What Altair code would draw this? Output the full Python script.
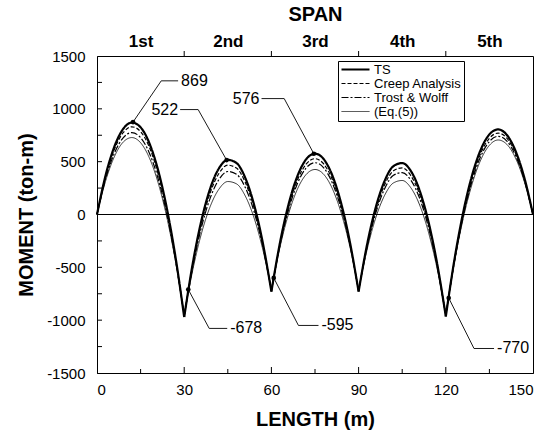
import json
import altair as alt
import pandas as pd

FONT = "Liberation Sans"

# ---------------- data ----------------
LENGTH = [0, 3, 6, 9, 12, 15, 18, 21, 24, 27, 30, 33, 36, 39, 42, 45, 48, 51, 54, 57,
          60, 63, 66, 69, 72, 75, 78, 81, 84, 87, 90, 93, 96, 99, 102, 105, 108, 111,
          114, 117, 120, 123, 126, 129, 132, 135, 138, 141, 144, 147, 150]

TS = [0, 375, 644, 810, 870, 825, 676, 422, 62, -401, -970,
      -454, -47, 251, 439, 517, 487, 347, 97, -262, -730,
      -260, 106, 367, 524, 576, 524, 367, 106, -260, -730,
      -273, 77, 321, 458, 487, 411, 227, -64, -461, -965,
      -422, 22, 367, 612, 758, 805, 753, 601, 350, 0]

CREEP = [0, 360, 618, 774, 830, 784, 637, 388, 39, -413, -965,
         -469, -77, 209, 391, 467, 439, 305, 67, -277, -725,
         -274, 77, 328, 478, 528, 478, 328, 77, -274, -725,
         -286, 50, 284, 414, 442, 367, 190, -91, -474, -960,
         -431, 1, 338, 578, 722, 770, 722, 577, 337, 0]

TROST = [0, 339, 581, 726, 775, 727, 583, 342, 5, -429, -960,
         -487, -114, 160, 333, 407, 381, 256, 30, -295, -720,
         -284, 54, 296, 442, 490, 442, 296, 54, -284, -720,
         -299, 23, 247, 371, 397, 324, 153, -118, -487, -955,
         -439, -16, 313, 549, 691, 740, 695, 557, 325, 0]

EQ5 = [0, 321, 549, 685, 728, 679, 537, 303, -24, -443, -955,
       -518, -173, 80, 242, 312, 290, 176, -29, -326, -715,
       -304, 15, 243, 380, 426, 380, 243, 15, -304, -715,
       -323, -23, 184, 299, 322, 252, 90, -164, -511, -950,
       -448, -37, 284, 515, 655, 705, 664, 533, 312, 0]

SERIES = ["TS", "Creep Analysis", "Trost & Wolff", "(Eq.(5))"]

X_LABELS = [0, 30, 60, 90, 120, 150]
X_MINOR = [15, 45, 75, 105, 135]
Y_LABELS = [-1500, -1000, -500, 0, 500, 1000, 1500]
Y_TICKS = [-1250, -1000, -750, -500, -250, 0, 250, 500, 750, 1000, 1250]
SPAN_CENTERS = [15, 45, 75, 105, 135]
SPAN_LABELS = ["1st", "2nd", "3rd", "4th", "5th"]
SPAN_BOUNDS = [30, 60, 90, 120]

ANN_TEXT = ["869", "522", "576", "-678", "-595", "-770"]
ANN_TIP_X = [12.4, 44.6, 74.6, 31.4, 60.8, 121.0]
ANN_TIP_Y = [875, 515, 575, -710, -600, -790]
ANN_BEND_X = [22.1, 34.8, 64.4, 38.6, 69.3, 129.7]
ANN_BEND_Y = [1265, 993, 1097, -1078, -1050, -1268]
ANN_END_X = [27.9, 28.6, 56.6, 44.8, 76.2, 136.6]

# ---------------- tables ----------------
rows = []
for name, vals in zip(SERIES, [TS, CREEP, TROST, EQ5]):
    for s in range(5):
        for i in range(11):
            k = 10 * s + i
            rows.append({"series": name, "key": f"{name}-{s}", "x": LENGTH[k],
                         "m": vals[k], "order": k})
curve_df = pd.DataFrame(rows)

lead_rows = []
for j, t in enumerate(ANN_TEXT):
    pts = [(ANN_TIP_X[j], ANN_TIP_Y[j]), (ANN_BEND_X[j], ANN_BEND_Y[j]), (ANN_END_X[j], ANN_BEND_Y[j])]
    for k, (px, py) in enumerate(pts):
        lead_rows.append({"id": t, "k": k, "x": px, "m": py})
lead_df = pd.DataFrame(lead_rows)

ann_df = pd.DataFrame({"label": ANN_TEXT, "tx": ANN_TIP_X, "ty": ANN_TIP_Y,
                       "bx": ANN_BEND_X, "by": ANN_BEND_Y, "ex": ANN_END_X})

W, H = 436, 317
XS = alt.Scale(domain=[0, 150], nice=False, zero=False)
YS = alt.Scale(domain=[-1500, 1500], nice=False, zero=False)

leg = dict(title=None, orient="none", legendX=241, legendY=5, fillColor="white",
           strokeColor="black", padding=2, symbolType="M-1,0H4.6", symbolSize=100,
           symbolStrokeColor="black", labelFontSize=13, labelFont=FONT, labelColor="black",
           rowPadding=0, labelOffset=21)

shadow = alt.Chart(pd.DataFrame({"a": [0]})).mark_rect(color="black", opacity=1).encode(
    x=alt.value(247), x2=alt.value(367), y=alt.value(9), y2=alt.value(66))

curves = alt.Chart(curve_df).mark_line(interpolate="monotone", color="black").encode(
    x=alt.X("x:Q", scale=XS,
            axis=alt.Axis(values=X_LABELS, tickSize=0, labelPadding=9, title="LENGTH (m)",
                          titlePadding=12)),
    y=alt.Y("m:Q", scale=YS,
            axis=alt.Axis(values=Y_LABELS, tickSize=0, labelPadding=12,
                          labelExpr="datum.value + ''", title="MOMENT (ton-m)", titlePadding=10)),
    detail="key:N",
    order="order:Q",
    strokeDash=alt.StrokeDash("series:N", scale=alt.Scale(domain=SERIES,
                              range=[[1, 0], [4, 2], [7, 2, 2, 2], [1, 0]]), legend=alt.Legend(**leg)),
    strokeWidth=alt.StrokeWidth("series:N", scale=alt.Scale(type="ordinal", domain=SERIES,
                                range=[2.2, 1.2, 1.2, 0.8]), legend=alt.Legend(**leg)),
)

zero = alt.Chart(pd.DataFrame({"m": [0]})).mark_rule(color="black", strokeWidth=1).encode(
    y=alt.Y("m:Q", scale=YS, axis=None))

xt_major = alt.Chart(pd.DataFrame({"x": X_LABELS[1:-1]})).mark_rule(color="black").encode(
    x=alt.X("x:Q", scale=XS, axis=None), y=alt.value(H), y2=alt.value(H - 6))
xt_minor = alt.Chart(pd.DataFrame({"x": X_MINOR})).mark_rule(color="black").encode(
    x=alt.X("x:Q", scale=XS, axis=None), y=alt.value(H), y2=alt.value(H - 4))
yt = alt.Chart(pd.DataFrame({"m": Y_TICKS})).mark_rule(color="black").encode(
    y=alt.Y("m:Q", scale=YS, axis=None), x=alt.value(0), x2=alt.value(5))

top_expr = f"{json.dumps(SPAN_LABELS)}[indexof({json.dumps(SPAN_CENTERS)}, datum.value)]"
top = alt.Chart(pd.DataFrame({"x": SPAN_BOUNDS})).mark_rule(color="black").encode(
    x=alt.X("x:Q", scale=XS,
            axis=alt.Axis(orient="top", values=SPAN_CENTERS, labelExpr=top_expr, tickSize=0,
                          domain=False, title="SPAN", labelFontSize=17, labelFontWeight="bold",
                          labelPadding=6, titlePadding=8)),
    y=alt.value(0), y2=alt.value(-5))

leaders = alt.Chart(lead_df).mark_line(color="black", strokeWidth=0.9).encode(
    x=alt.X("x:Q", scale=XS, axis=None), y=alt.Y("m:Q", scale=YS, axis=None),
    detail="id:N", order="k:Q")

tips = alt.Chart(ann_df).mark_point(filled=True, color="black", size=22, opacity=1).encode(
    x=alt.X("tx:Q", scale=XS, axis=None), y=alt.Y("ty:Q", scale=YS, axis=None))

txt_l = alt.Chart(ann_df).transform_filter("datum.ex > datum.bx").mark_text(
    align="left", baseline="middle", dx=3, fontSize=16, font=FONT, color="black").encode(
    x=alt.X("ex:Q", scale=XS, axis=None), y=alt.Y("by:Q", scale=YS, axis=None), text="label:N")
txt_r = alt.Chart(ann_df).transform_filter("datum.ex < datum.bx").mark_text(
    align="right", baseline="middle", dx=-2, fontSize=16, font=FONT, color="black").encode(
    x=alt.X("ex:Q", scale=XS, axis=None), y=alt.Y("by:Q", scale=YS, axis=None), text="label:N")

chart = alt.layer(shadow, curves, zero, xt_major, xt_minor, yt, top, leaders, tips, txt_l, txt_r
                  ).resolve_axis(x="independent", y="independent").properties(
    width=W, height=H,
    padding={"left": 97, "top": 56, "right": 551 - 97 - W, "bottom": 433 - 56 - H},
    autosize=alt.AutoSizeParams(type="none"),
).configure_view(stroke="black", strokeWidth=1).configure_axis(
    grid=False, domainColor="black", domainWidth=1, labelColor="black", titleColor="black",
    labelFont=FONT, titleFont=FONT, labelFontSize=15, titleFontSize=20, titleFontWeight="bold",
)

chart.save("out.html", embed_options={"renderer": "svg", "actions": False})
